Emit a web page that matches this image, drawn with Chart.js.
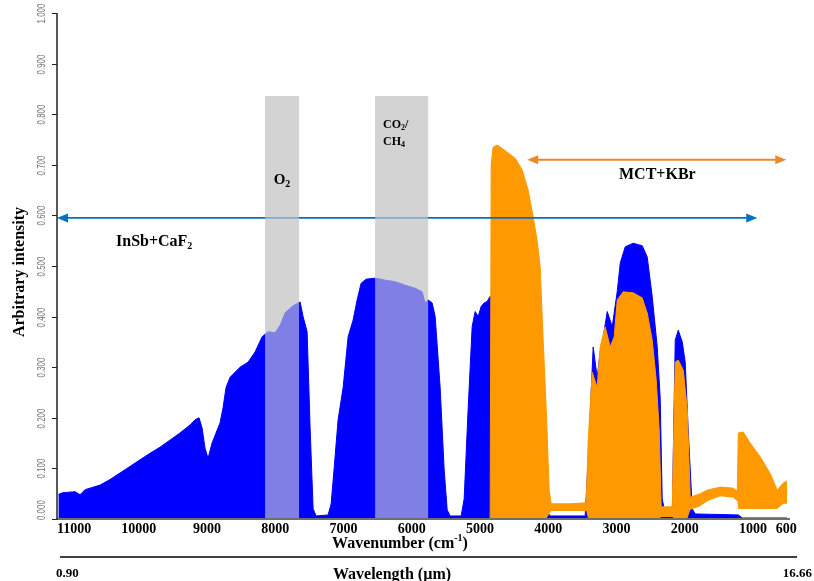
<!DOCTYPE html>
<html>
<head>
<meta charset="utf-8">
<script src="https://cdn.jsdelivr.net/npm/chart.js@4.4.1/dist/chart.umd.min.js"></script>
<style>
  html, body { margin: 0; padding: 0; background: #ffffff; }
  #wrap { width: 814px; height: 581px; }
</style>
</head>
<body>
<div id="wrap"><canvas id="c" width="814" height="581"></canvas></div>
<script>
// InSb + CaF2 detector spectrum (upper envelope), wavenumber in cm-1
const blueWn = [11180,11156,11112,10936,10863,10789,10569,10423,10276,10130,9983,9836,9690,9543,9397,9250,9177,9118,9074,9030,8986,8927,8869,8810,8766,8722,8663,8517,8399,8297,8194,8106,8003,7928,7857,7754,7637,7593,7534,7490,7446,7402,7226,7182,7138,7080,7006,6933,6860,6801,6742,6669,6537,6391,6244,6097,5951,5848,5804,5760,5701,5657,5584,5525,5481,5437,5276,5232,5173,5115,5071,5027,4983,4939,4895,4851,4778,4704,4631,4558,4484,4411,4338,4265,4191,4118,4045,3971,3458,3414,3341,3282,3238,3194,3135,3062,2988,2944,2871,2754,2622,2549,2476,2402,2359,2329,2285,2182,2138,2094,2035,1992,1948,1889,1845,1214,1156,500];
const blueVal = [0.048,0.050,0.052,0.054,0.048,0.058,0.067,0.078,0.091,0.104,0.117,0.130,0.142,0.156,0.170,0.186,0.196,0.200,0.180,0.140,0.120,0.150,0.170,0.190,0.220,0.260,0.280,0.300,0.310,0.330,0.360,0.370,0.368,0.383,0.407,0.420,0.429,0.400,0.370,0.180,0.020,0.006,0.008,0.030,0.100,0.196,0.260,0.360,0.393,0.433,0.466,0.474,0.476,0.472,0.469,0.462,0.456,0.449,0.427,0.433,0.427,0.400,0.260,0.097,0.018,0.006,0.006,0.040,0.220,0.380,0.410,0.400,0.420,0.427,0.430,0.440,0.440,0.440,0.420,0.380,0.360,0.340,0.300,0.240,0.150,0.060,0.020,0.006,0.006,0.120,0.340,0.280,0.330,0.360,0.410,0.380,0.450,0.506,0.538,0.545,0.540,0.518,0.440,0.340,0.240,0.040,0.008,0.008,0.354,0.373,0.350,0.310,0.176,0.020,0.010,0.008,0.002,0.002];

// MCT + KBr detector spectrum: upper and lower envelope
const orangeWn = [4851,4836,4807,4748,4704,4602,4484,4382,4294,4220,4162,4118,4074,4030,3986,3956,3678,3443,3414,3355,3282,3238,3165,3091,3033,2988,2900,2754,2622,2549,2476,2417,2373,2344,2182,2138,2094,2020,1962,1918,1772,1670,1479,1288,1229,1214,1141,1039,893,746,643,555,500];
const orangeHi = [0,0.700,0.735,0.739,0.735,0.725,0.713,0.690,0.650,0.597,0.550,0.498,0.354,0.220,0.057,0.030,0.030,0.032,0.156,0.290,0.260,0.340,0.380,0.340,0.360,0.433,0.449,0.447,0.437,0.407,0.354,0.275,0.176,0.024,0.024,0.310,0.314,0.294,0.215,0.043,0.050,0.057,0.063,0.061,0.055,0.170,0.172,0.150,0.123,0.090,0.057,0.071,0.075];
const orangeLo = [0,0,0,0,0,0,0,0,0,0,0,0,0,0,0.010,0.016,0.016,0.016,0,0,0,0,0,0,0,0,0,0,0,0,0,0,0,0.004,0.004,0,0,0,0,0.018,0.025,0.035,0.045,0.042,0.035,0.020,0.020,0.020,0.020,0.020,0.020,0.030,0.030];

// Axis ticks
const xTicks = [11000,10000,9000,8000,7000,6000,5000,4000,3000,2000,1000,600];
const yTicks = [0,0.1,0.2,0.3,0.4,0.5,0.6,0.7,0.8,0.9,1.0];

// Shaded absorption bands (cm-1)
const bandFrom = [8150, 6537];
const bandTo   = [7652, 5760];
const bandTop  = [0.836, 0.836];

// Detector ranges (cm-1) and arrow heights
const insbRange = [11200, 936];
const insbLevel = 0.595;
const mctRange = [4308, 511];
const mctLevel = 0.71;

const SERIF = '"Liberation Serif", "Times New Roman", serif';
const SANS = '"Liberation Sans", Arial, sans-serif';

function pts(xs, ys) { return xs.map((x, i) => ({ x: x, y: ys[i] })); }

// draws a run of text pieces (for sub/superscripts)
function textRun(ctx, parts, x, y, align) {
  const widths = parts.map(p => { ctx.font = p.font; return ctx.measureText(p.t).width; });
  const total = widths.reduce((a, b) => a + b, 0);
  let cx = align === 'center' ? x - total / 2 : x;
  ctx.textAlign = 'left';
  ctx.textBaseline = 'alphabetic';
  parts.forEach((p, i) => {
    ctx.font = p.font;
    ctx.fillText(p.t, cx, y + (p.dy || 0));
    cx += widths[i];
  });
}

function arrow(ctx, x1, x2, y, color) {
  const h = 11, w = 4.5;
  ctx.save();
  ctx.strokeStyle = color;
  ctx.fillStyle = color;
  ctx.lineWidth = 1.8;
  ctx.beginPath();
  ctx.moveTo(x1 + h - 2, y);
  ctx.lineTo(x2 - h + 2, y);
  ctx.stroke();
  ctx.beginPath();
  ctx.moveTo(x1, y); ctx.lineTo(x1 + h, y - w); ctx.lineTo(x1 + h, y + w); ctx.closePath(); ctx.fill();
  ctx.beginPath();
  ctx.moveTo(x2, y); ctx.lineTo(x2 - h, y - w); ctx.lineTo(x2 - h, y + w); ctx.closePath(); ctx.fill();
  ctx.restore();
}

function drawBands(chart, fill) {
  const ctx = chart.ctx, xs = chart.scales.x, ys = chart.scales.y;
  ctx.save();
  ctx.fillStyle = fill;
  for (let i = 0; i < bandFrom.length; i++) {
    const a = xs.getPixelForValue(bandFrom[i]);
    const b = xs.getPixelForValue(bandTo[i]);
    const t = ys.getPixelForValue(bandTop[i]);
    const bot = ys.getPixelForValue(0);
    ctx.fillRect(a, t, b - a, bot - t);
  }
  ctx.restore();
}

const decor = {
  id: 'decor',
  beforeDatasetsDraw(chart) {
    drawBands(chart, 'rgb(211,211,211)');
  },
  afterDatasetsDraw(chart) {
    const ctx = chart.ctx, xs = chart.scales.x, ys = chart.scales.y;
    arrow(ctx, xs.getPixelForValue(insbRange[0]), xs.getPixelForValue(insbRange[1]), ys.getPixelForValue(insbLevel), '#0070c0');
    arrow(ctx, xs.getPixelForValue(mctRange[0]), xs.getPixelForValue(mctRange[1]), ys.getPixelForValue(mctLevel), '#e8892e');
    drawBands(chart, 'rgba(211,211,211,0.6)');
  },
  afterDraw(chart) {
    const ctx = chart.ctx, xs = chart.scales.x, ys = chart.scales.y;
    const area = chart.chartArea;
    ctx.save();

    // axis lines
    ctx.strokeStyle = '#6e6e6e';
    ctx.lineWidth = 2;
    ctx.beginPath();
    ctx.moveTo(area.left, area.bottom);
    ctx.lineTo(area.right + 3, area.bottom);
    ctx.stroke();
    ctx.strokeStyle = '#222222';
    ctx.lineWidth = 1.5;
    ctx.beginPath();
    ctx.moveTo(area.left, area.top);
    ctx.lineTo(area.left, area.bottom + 1);
    ctx.stroke();

    // y ticks and rotated, condensed labels
    ctx.lineWidth = 1;
    ctx.font = '11px ' + SANS;
    ctx.fillStyle = '#707070';
    yTicks.forEach(v => {
      const py = Math.round(ys.getPixelForValue(v)) + 0.5;
      ctx.beginPath();
      ctx.moveTo(area.left - 5, py);
      ctx.lineTo(area.left, py);
      ctx.stroke();
      const lab = v.toFixed(3);
      const w = ctx.measureText(lab).width * 0.72;
      const cy = Math.min(py, area.bottom - w / 2 + 1);
      ctx.save();
      ctx.translate(42, cy);
      ctx.rotate(-Math.PI / 2);
      ctx.scale(0.72, 1);
      ctx.textAlign = 'center';
      ctx.textBaseline = 'middle';
      ctx.fillText(lab, 0, 0);
      ctx.restore();
    });

    // x tick labels
    ctx.fillStyle = '#000000';
    ctx.font = 'bold 14px ' + SERIF;
    ctx.textBaseline = 'alphabetic';
    xTicks.forEach(v => {
      const px = xs.getPixelForValue(v);
      const lab = String(v);
      const w = ctx.measureText(lab).width;
      let cx = Math.max(px, area.left + w / 2);
      if (v === xTicks[xTicks.length - 1]) cx = px + 6;
      ctx.textAlign = 'center';
      ctx.fillText(lab, cx, 533);
    });

    // axis titles
    textRun(ctx, [
      { t: 'Wavenumber (cm', font: 'bold 16px ' + SERIF },
      { t: '-1', font: 'bold 10px ' + SERIF, dy: -7 },
      { t: ')', font: 'bold 16px ' + SERIF }
    ], 400, 548, 'center');

    ctx.strokeStyle = '#000000';
    ctx.lineWidth = 1.5;
    ctx.beginPath();
    ctx.moveTo(60, 557);
    ctx.lineTo(797, 557);
    ctx.stroke();

    ctx.font = 'bold 13px ' + SERIF;
    ctx.textAlign = 'left';
    ctx.fillText('0.90', 56, 577);
    ctx.textAlign = 'right';
    ctx.fillText('16.66', 812, 577);
    textRun(ctx, [{ t: 'Wavelength (µm)', font: 'bold 16px ' + SERIF }], 392, 579, 'center');

    ctx.save();
    ctx.translate(24, 272);
    ctx.rotate(-Math.PI / 2);
    ctx.font = 'bold 16px ' + SERIF;
    ctx.textAlign = 'center';
    ctx.fillText('Arbitrary intensity', 0, 0);
    ctx.restore();

    // band and detector annotations
    textRun(ctx, [
      { t: 'O', font: 'bold 15px ' + SERIF },
      { t: '2', font: 'bold 10px ' + SERIF, dy: 3 }
    ], 282, 184, 'center');
    textRun(ctx, [
      { t: 'CO', font: 'bold 12px ' + SERIF },
      { t: '2', font: 'bold 8px ' + SERIF, dy: 2 },
      { t: '/', font: 'bold 12px ' + SERIF }
    ], 383, 128, 'left');
    textRun(ctx, [
      { t: 'CH', font: 'bold 12px ' + SERIF },
      { t: '4', font: 'bold 8px ' + SERIF, dy: 2 }
    ], 383, 145, 'left');
    textRun(ctx, [
      { t: 'InSb+CaF', font: 'bold 16px ' + SERIF },
      { t: '2', font: 'bold 10px ' + SERIF, dy: 3 }
    ], 116, 246, 'left');
    textRun(ctx, [{ t: 'MCT+KBr', font: 'bold 16px ' + SERIF }], 619, 179, 'left');

    ctx.restore();
  }
};

new Chart(document.getElementById('c'), {
  type: 'line',
  data: {
    datasets: [
      {
        label: 'InSb+CaF2',
        data: pts(blueWn, blueVal),
        borderColor: '#0000ff',
        backgroundColor: '#0000ff',
        borderWidth: 1,
        fill: 'origin',
        pointRadius: 0,
        tension: 0,
        order: 3
      },
      {
        label: 'MCT+KBr low',
        data: pts(orangeWn, orangeLo),
        borderColor: '#ff9900',
        borderWidth: 0,
        fill: false,
        pointRadius: 0,
        tension: 0,
        order: 2
      },
      {
        label: 'MCT+KBr',
        data: pts(orangeWn, orangeHi),
        borderColor: '#ff9900',
        backgroundColor: '#ff9900',
        borderWidth: 1,
        fill: 1,
        pointRadius: 0,
        tension: 0,
        order: 1
      }
    ]
  },
  options: {
    responsive: false,
    animation: false,
    devicePixelRatio: 1,
    layout: { padding: { left: 57, right: 27, top: 13, bottom: 62 } },
    scales: {
      x: { type: 'linear', reverse: true, min: 500, max: 11200, display: false },
      y: { type: 'linear', min: 0, max: 1, display: false }
    },
    plugins: {
      legend: { display: false },
      tooltip: { enabled: false }
    }
  },
  plugins: [decor]
});
</script>
</body>
</html>
